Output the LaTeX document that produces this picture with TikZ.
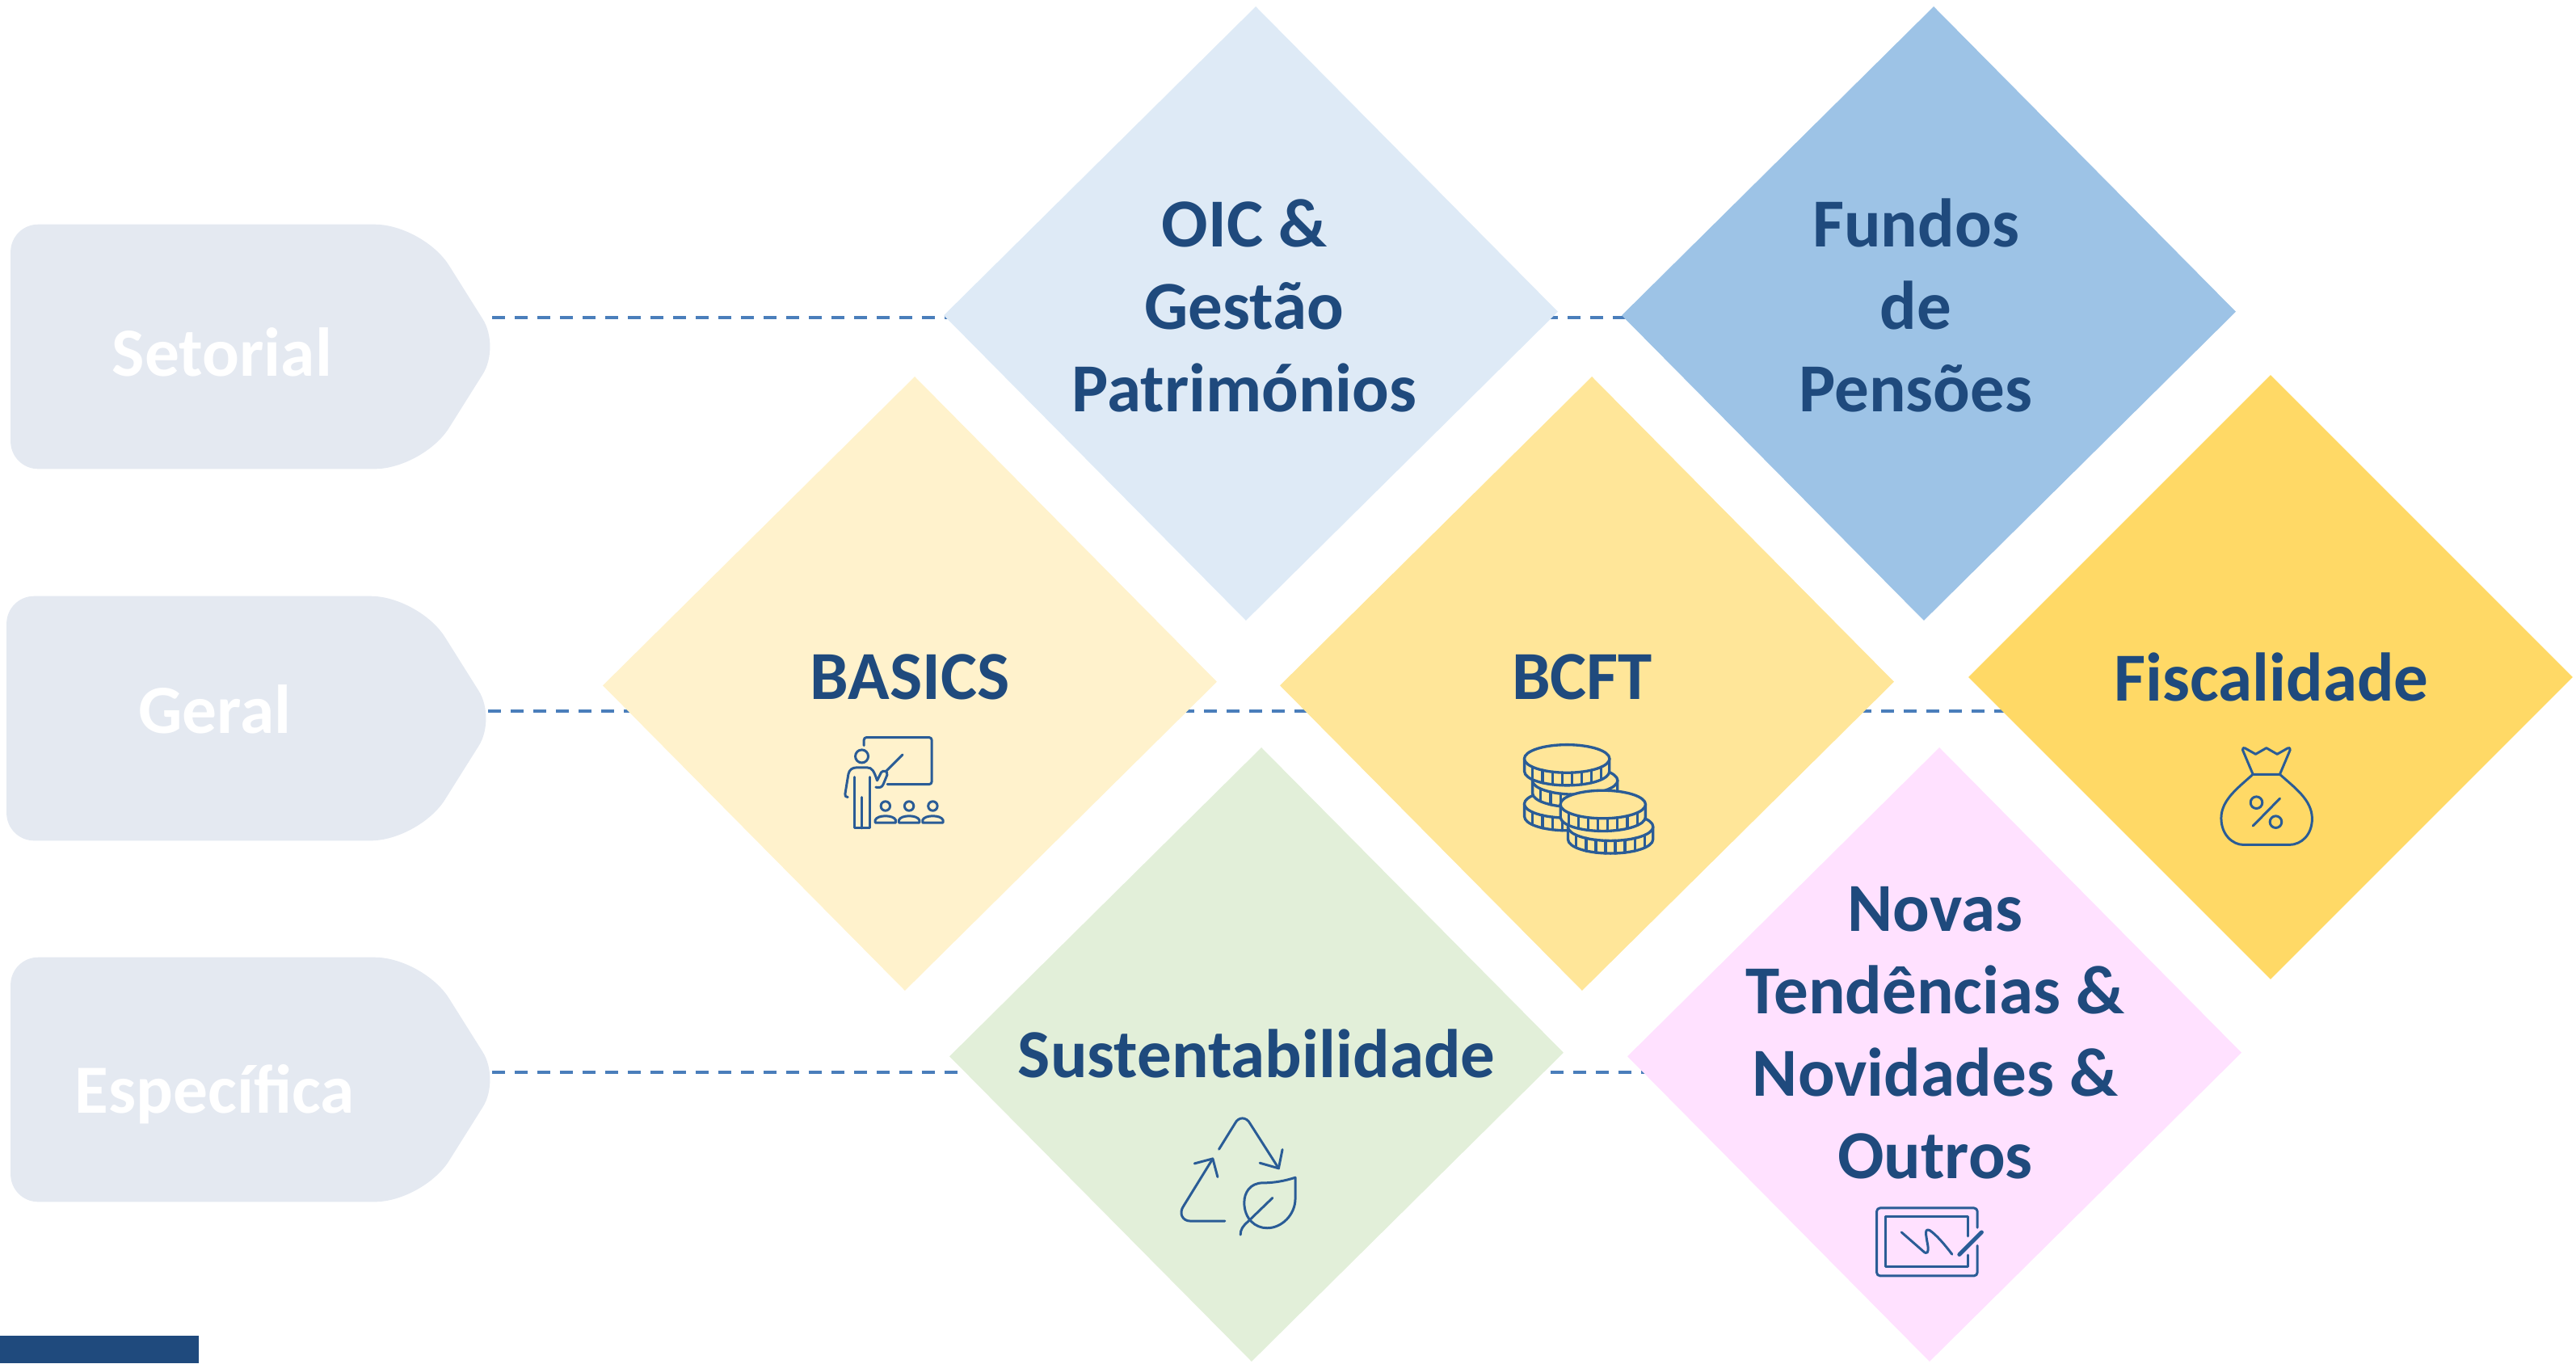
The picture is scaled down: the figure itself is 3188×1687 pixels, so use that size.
\documentclass[tikz,border=0pt]{standalone}
\usepackage{fontspec}
\setmainfont{Carlito}
\usetikzlibrary{shapes.geometric,backgrounds}
\definecolor{txtblue}{HTML}{1F4A7D}
\definecolor{iconblue}{HTML}{2A5C96}
\definecolor{linkblue}{HTML}{4A7EBB}
\definecolor{tagfill}{HTML}{E4E9F1}
\definecolor{oiccol}{HTML}{DEEAF6}
\definecolor{fundoscol}{HTML}{9DC3E6}
\definecolor{basicscol}{HTML}{FFF2CC}
\definecolor{bcftcol}{HTML}{FFE699}
\definecolor{fiscalcol}{HTML}{FFD966}
\definecolor{sustcol}{HTML}{E2EFD9}
\definecolor{novascol}{HTML}{FFE1FF}
\tikzset{
  tile/.style={diamond,aspect=1,inner sep=0,minimum width=7.6cm,minimum height=7.6cm,fill=#1},
  skewed/.style={xslant=0.016,yslant=0.006},
  tagbox/.style={rectangle,inner sep=0,minimum width=5.94cm,minimum height=3.01cm},
  tagtxt/.style={font=\fontsize{24.3}{29}\selectfont\bfseries,text=white},
  tiletxt/.style={font=\fontsize{24.2}{29}\selectfont\bfseries,text=txtblue,align=center},
  link/.style={linkblue,line width=1.2pt,dash pattern=on 4.55pt off 3.41pt},
  iconline/.style={iconblue,line width=0.85pt,line cap=round,line join=round},
  zoomed/.style={shift={#1},x=0.00333cm,y=-0.00333cm}
}
\newcommand{\tagshape}[1]{
  \fill[tagfill,rounded corners=0.34cm] (#1.west) -- (#1.north west) [rounded corners=0.6cm] -- ([xshift=-0.85cm]#1.north east)
    [rounded corners=0.4cm] -- ([xshift=0.1cm]#1.east) [rounded corners=0.6cm] -- ([xshift=-0.85cm]#1.south east) [rounded corners=0.34cm] -- (#1.south west) -- cycle;
}
\newcommand{\coin}[3]{
  \begin{scope}[shift={(#1,#2)}]
    \filldraw[iconline,line width=0.95pt,fill=#3] (-158,0) -- (-158,47) .. controls (-158,76) and (-87,99) .. (0,99)
      .. controls (87,99) and (158,76) .. (158,47) -- (158,0) -- cycle;
    \filldraw[iconline,line width=0.95pt,fill=#3] (0,0) ellipse [x radius=0.527cm,y radius=0.173cm];
    \foreach \d in {-128,-91,-54,-18,18,54,91,128}
      \draw[iconline,line width=0.95pt] (\d,{52*sqrt(1-(\d/158)*(\d/158))}) -- ++(0,47);
  \end{scope}
}
\begin{document}
\begin{tikzpicture}[x=0.01cm,y=-0.01cm]
\useasboundingbox (0,0) rectangle (3188,1687);
\coordinate (rowa) at (0,393);
\coordinate (rowb) at (0,880);
\coordinate (rowc) at (0,1327);

\node[tagbox] (setorial) at (311,429) {};
\node[tagbox] (geral) at (306,889) {};
\node[tagbox] (especifica) at (311,1336) {};
\tagshape{setorial}
\tagshape{geral}
\tagshape{especifica}
\node[tagtxt] (setorialtxt) at (275,436) {Setorial};
\node[tagtxt] (geraltxt) at (266,878) {Geral};
\node[tagtxt] (especificatxt) at (266,1354) {Específica};

\node[tile=oiccol,skewed] (oic) at (1548,388) {};
\node[tile=fundoscol,skewed] (fundos) at (2387,388) {};
\node[tile=basicscol,skewed] (basics) at (1126,846) {};
\node[tile=bcftcol,skewed] (bcft) at (1964,846) {};
\node[tile=fiscalcol,minimum width=7.48cm,minimum height=7.48cm] (fiscal) at (2810,838) {};
\node[tile=sustcol,skewed] (sust) at (1555,1305) {};
\node[tile=novascol,skewed] (novas) at (2394,1305) {};

\begin{scope}[on background layer]
\draw[link] (setorial.east |- rowa) -- (oic |- rowa);
\draw[link] (oic |- rowa) -- (fundos |- rowa);
\draw[link] (geral.east |- rowb) -- (basics |- rowb);
\draw[link] (basics |- rowb) -- (bcft |- rowb);
\draw[link] (bcft |- rowb) -- (fiscal |- rowb);
\draw[link] (especifica.east |- rowc) -- (sust |- rowc);
\draw[link] (sust |- rowc) -- (novas |- rowc);
\end{scope}

\node[tiletxt] (oictxt) at (1540,378) {OIC \&\\Gestão\\Patrimónios};
\node[tiletxt] (fundostxt) at (2371,378) {Fundos\\de\\Pensões};
\node[tiletxt] (basicstxt) at (1126,838) {BASICS};
\node[tiletxt] (bcfttxt) at (1958,838) {BCFT};
\node[tiletxt] (fiscaltxt) at (2811,838) {Fiscalidade};
\node[tiletxt] (susttxt) at (1555,1304) {Sustentabilidade};
\node[tiletxt] (novastxt) at (2395,1278) {Novas\\Tendências \&\\Novidades \&\\Outros};

% presenter
\begin{scope}[zoomed={(980,880)}]
\draw[iconline,rounded corners=0.03cm] (268,128) -- (268,98) -- (520,98) -- (520,272) -- (355,272);
\draw[iconline] (260,168) circle [radius=0.08cm];
\draw[iconline] (412,162) -- (352,222);
\draw[iconline] (232,245) -- (232,435) -- (290,435) -- (290,245);
\draw[iconline] (260,320) -- (260,435);
\draw[iconline] (208,320) .. controls (200,320) and (197,316) .. (198,308) -- (210,235)
  .. controls (213,218) and (225,210) .. (240,210) -- (280,210) .. controls (298,210) and (305,222) .. (317,258)
  -- (332,228) .. controls (340,218) and (358,222) .. (354,238) -- (340,272) .. controls (335,285) and (325,285) .. (312,283);
\foreach \sx in {348,436,524} {
  \draw[iconline] (\sx,353) circle [radius=0.057cm];
  \draw[iconline] (\sx-38,415) -- (\sx+38,415) -- (\sx+38,405) .. controls (\sx+30,385) and (\sx-30,385) .. (\sx-38,405) -- cycle;
}
\end{scope}

% coins
\begin{scope}[zoomed={(1840,890)}]
\coin{298}{315}{bcftcol}
\coin{328}{228}{bcftcol}
\coin{298}{147}{bcftcol}
\coin{460}{400}{bcftcol}
\coin{432}{317}{bcftcol}
\end{scope}

% bag
\begin{scope}[zoomed={(2680,900)}]
\draw[iconline] (325,175) -- (287,85) .. controls (285,77) and (290,74) .. (296,78) -- (335,100) -- (375,77) -- (415,100) -- (454,78)
  .. controls (460,74) and (465,77) .. (463,85) -- (425,175) -- cycle;
\draw[iconline] (325,175) .. controls (270,225) and (207,270) .. (207,338) .. controls (207,400) and (250,437) .. (290,437) -- (460,437)
  .. controls (505,437) and (545,400) .. (545,340) .. controls (545,270) and (480,225) .. (425,175);
\draw[iconline] (338,280) circle [radius=0.073cm];
\draw[iconline] (410,352) circle [radius=0.073cm];
\draw[iconline] (425,265) -- (325,367);
\end{scope}

% recycling and leaf
\begin{scope}[zoomed={(1430,1360)}]
\draw[iconline] (236,187) -- (295,92) .. controls (308,65) and (338,65) .. (352,92) -- (458,258);
\draw[iconline] (388,238) -- (458,258) -- (472,188);
\draw[iconline] (258,454) -- (130,454) .. controls (100,454) and (85,425) .. (105,397) -- (213,222);
\draw[iconline] (145,240) -- (213,222) -- (231,290);
\draw[iconline] (520,292) .. controls (480,305) and (440,312) .. (400,312) .. controls (350,312) and (330,350) .. (330,385)
  .. controls (330,445) and (370,480) .. (415,480) .. controls (470,480) and (520,430) .. (520,370) -- cycle;
\draw[iconline] (435,368) -- (345,455) .. controls (325,472) and (316,485) .. (316,505);
\end{scope}

% tablet
\begin{scope}[zoomed={(2290,1470)}]
\draw[iconline,rounded corners=0.04cm] (472,148) -- (472,75) -- (98,75) -- (98,327) -- (472,327) -- (472,215);
\draw[iconline] (438,180) -- (438,108) -- (132,108) -- (132,293) -- (438,293) -- (438,250);
\draw[iconline] (190,165) -- (270,235) .. controls (285,250) and (292,240) .. (288,215) .. controls (280,170) and (275,150) .. (295,158)
  .. controls (320,175) and (350,210) .. (378,247);
\draw[iconline,line width=1.4pt] (405,248) -- (488,165);
\end{scope}

\fill[txtblue] (0,1653) rectangle (246,1687);
\end{tikzpicture}
\end{document}
